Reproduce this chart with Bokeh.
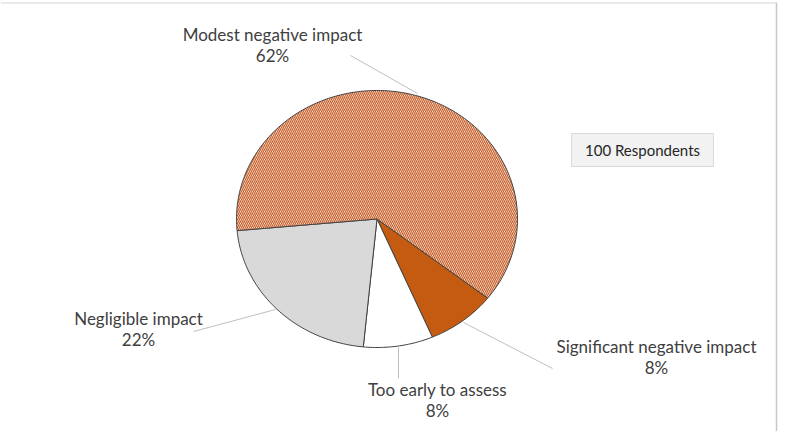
import numpy as np
from bokeh.plotting import figure
from bokeh.models import Range1d
from bokeh.embed import file_html
from bokeh.resources import INLINE
from bokeh.core.properties import value

# ---- data ----
categories = ["Significant negative impact", "Too early to assess", "Negligible impact", "Modest negative impact"]
values = [8, 8, 22, 62]
pct_labels = ["8%", "8%", "22%", "62%"]
fill_colors = ["#C55A11", "#FFFFFF", "#D9D9D9", "#FFFFFF"]
hatched = [False, False, False, True]
total_label = "100 Respondents"

# ---- layout (reference pixel space) ----
W, H = 780, 431
p = figure(width=W, height=H, x_range=Range1d(0, W), y_range=Range1d(H, 0),
           x_axis_type=None, y_axis_type=None, output_backend="svg",
           toolbar_location=None, min_border=0)
p.grid.visible = False
p.outline_line_color = None
p.background_fill_color = "white"
p.border_fill_color = "white"

cx, cy, rx, ry = 376.5, 218.5, 140.5, 128.5
start_deg = 38.0  # clockwise from 3 o'clock (screen)

total = float(sum(values))
a0 = np.deg2rad(start_deg)
for v, col, hat in zip(values, fill_colors, hatched):
    a1 = a0 + 2 * np.pi * v / total
    t = np.linspace(a0, a1, max(8, int(v * 4)))
    xs = [cx] + list(cx + rx * np.cos(t))
    ys = [cy] + list(cy + ry * np.sin(t))
    if hat:
        p.patch(xs, ys, fill_color=col, hatch_pattern="\\", hatch_color="#C9602A",
                hatch_scale=4, hatch_weight=1.3, line_color="#404040", line_width=1)
    else:
        p.patch(xs, ys, fill_color=col, line_color="#404040", line_width=1)
    a0 = a1

# leader lines
lead_x0 = [463, 398, 275, 417]
lead_y0 = [322, 347, 309, 93]
lead_x1 = [552, 398, 193, 350]
lead_y1 = [368, 378, 331, 55]
p.segment(lead_x0, lead_y0, lead_x1, lead_y1, line_color="#BFBFBF", line_width=1)

# labels
lab_x = [656, 437, 138, 272]
lab_y = [346, 389, 318, 34]
p.text(lab_x, lab_y, text=categories, text_align="center", text_baseline="alphabetic",
       text_font=value("Lato"), text_font_size="17px", text_color="#404040")
p.text(lab_x, [y + 20.5 for y in lab_y], text=pct_labels, text_align="center",
       text_baseline="alphabetic", text_font=value("Lato"), text_font_size="17px",
       text_color="#404040")

# respondents box
p.quad(left=[571], right=[713], top=[133], bottom=[166], fill_color="#F2F2F2",
       line_color="#D9D9D9", line_width=1)
p.text([642], [149], text=[total_label], text_align="center", text_baseline="alphabetic",
       text_font=value("Lato"), text_font_size="15px", text_color="#262626")

# chart border (top and right)
p.segment([0], [2.5], [776], [2.5], line_color="#E3E3E3", line_width=1.5)
p.segment([776], [2], [776], [H], line_color="#C8C8C8", line_width=1.5)

open("out.html", "w").write(file_html(p, INLINE))
